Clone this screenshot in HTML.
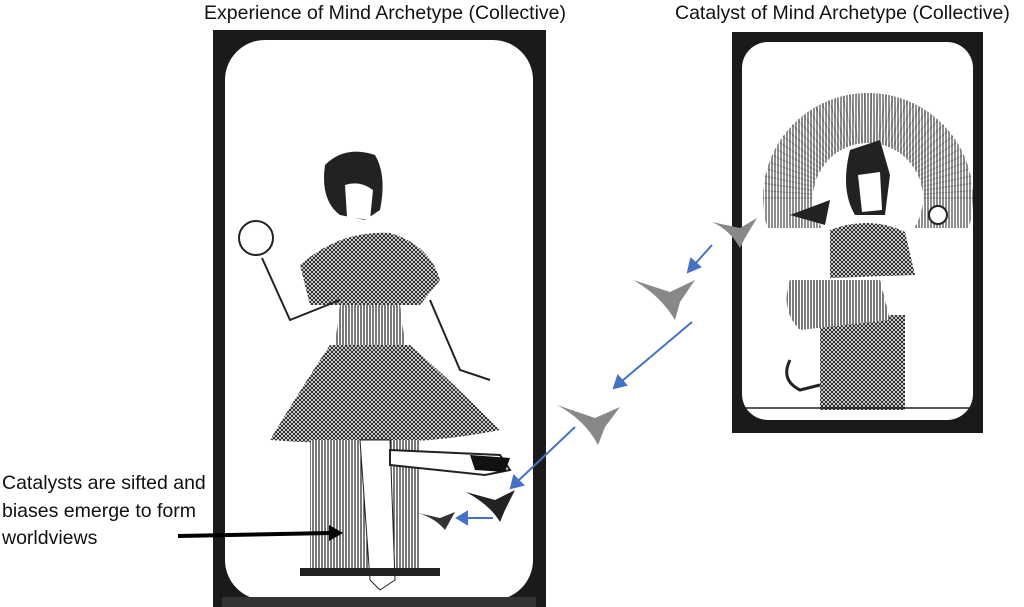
<!DOCTYPE html>
<html><head><meta charset="utf-8"><style>
body{margin:0;width:1024px;height:607px;background:#fff;overflow:hidden;position:relative;font-family:"Liberation Sans",sans-serif;}
.t{position:absolute;font-size:19.5px;color:#111;white-space:nowrap;}
</style></head><body>
<div class="t" style="left:204px;top:2px;">Experience of Mind Archetype (Collective)</div>
<div class="t" style="left:675px;top:2px;">Catalyst of Mind Archetype (Collective)</div>
<div class="t" style="left:2px;top:470px;line-height:27.5px;font-size:19.5px;">Catalysts are sifted and<br>biases emerge to form<br>worldviews</div>
<svg width="1024" height="607" style="position:absolute;left:0;top:0">
<defs>
<pattern id="h" width="4" height="4" patternUnits="userSpaceOnUse"><rect width="4" height="4" fill="#fff"/><path d="M0 0L4 4M4 0L0 4" stroke="#222" stroke-width="1"/></pattern>
<pattern id="v" width="3" height="3" patternUnits="userSpaceOnUse"><rect width="3" height="3" fill="#fff"/><path d="M1 0V3" stroke="#222" stroke-width="1.2"/></pattern>
</defs>
<!-- left card -->
<rect x="213" y="30" width="333" height="577" fill="#1a1a1a"/>
<rect x="225" y="40" width="308" height="560" rx="40" fill="#fff"/>
<rect x="222" y="597" width="314" height="10" fill="#333"/>
<!-- left figure -->
<path d="M325 165 Q345 145 375 155 Q387 175 380 210 L365 220 L340 215 Q320 200 325 165Z" fill="#222"/>
<path d="M345 185 Q360 180 373 190 L370 220 L347 217Z" fill="#fff"/>
<path d="M300 265 Q340 230 390 233 Q430 245 440 280 L420 305 L310 305Z" fill="url(#h)"/>
<path d="M340 305 L400 305 L405 345 L335 345Z" fill="url(#v)"/>
<path d="M330 345 L410 345 Q450 380 500 430 Q400 450 270 440 Q300 390 330 345Z" fill="url(#h)"/>
<rect x="310" y="440" width="110" height="130" fill="url(#v)"/>
<path d="M360 440 L390 440 L395 580 L380 590 L370 580Z" fill="#fff" stroke="#222"/>
<path d="M390 450 L500 455 L510 470 L485 475 L390 465Z" fill="#fff" stroke="#222" stroke-width="2"/>
<path d="M470 455 L510 458 L505 472 L475 470Z" fill="#111"/>
<rect x="300" y="568" width="140" height="8" fill="#222"/>
<circle cx="256" cy="238" r="17" fill="#fff" stroke="#222" stroke-width="2"/>
<path d="M262 258 L290 320 L340 300" fill="none" stroke="#222" stroke-width="2"/>
<path d="M430 300 L460 370 L490 380" fill="none" stroke="#222" stroke-width="2"/>
<path d="M466 492 L495 500 L515 490 L505 510 L500 522 Q490 505 466 492Z" fill="#222"/>
<path d="M418 513 L440 518 L455 512 L445 530 Q435 518 418 513Z" fill="#333"/>
<!-- right card -->
<rect x="732" y="32" width="251" height="401" fill="#1a1a1a"/>
<rect x="742" y="42" width="231" height="378" rx="26" fill="#fff"/>
<g stroke="#222" stroke-width="1.2"><path id="rays" d=""/></g>
<circle cx="868" cy="198" r="105" fill="url(#v)" opacity="0.85"/>
<rect x="755" y="228" width="215" height="100" fill="#fff"/>
<circle cx="868" cy="198" r="55" fill="#fff"/>
<path d="M850 150 L880 140 L890 175 L885 215 L855 215 Q840 190 850 150Z" fill="#222"/>
<path d="M858 175 L880 172 L882 210 L862 212Z" fill="#fff"/>
<path d="M830 230 Q870 215 905 232 L915 275 L830 278Z" fill="url(#h)"/>
<rect x="820" y="315" width="85" height="95" fill="url(#h)"/>
<path d="M790 280 L880 280 L890 320 L800 330 Q780 310 790 280Z" fill="url(#v)"/>
<path d="M790 360 Q780 380 800 390 L820 385" fill="none" stroke="#222" stroke-width="3"/>
<circle cx="938" cy="215" r="9" fill="#fff" stroke="#222" stroke-width="2"/>
<path d="M790 215 L830 200 L825 225Z" fill="#222"/>
<line x1="745" y1="408" x2="972" y2="408" stroke="#222" stroke-width="1.5"/>
<!-- gray birds -->
<path d="M712 222 L740 228 L757 218 L745 238 L740 248 Q730 230 712 222Z" fill="#888"/>
<path d="M633 280 L670 292 L695 280 L680 302 L675 320 Q660 295 633 280Z" fill="#888"/>
<path d="M557 405 L595 418 L620 407 L605 427 L598 445 Q585 420 557 405Z" fill="#888"/>
<!-- blue arrows -->
<g stroke="#4472c4" stroke-width="2" fill="#4472c4">
<line x1="712" y1="245" x2="695" y2="264"/><polygon points="688,272 691,259 700,267"/>
<line x1="692" y1="322" x2="622" y2="381"/><polygon points="614,388 618,376 626,385"/>
<line x1="575" y1="427" x2="518" y2="481"/><polygon points="511,488 514,476 523,485"/>
<line x1="493" y1="518" x2="466" y2="518"/><polygon points="457,518 467,512 467,524"/>
</g>
<!-- black arrow -->
<line x1="178" y1="536" x2="330" y2="533" stroke="#000" stroke-width="4"/>
<polygon points="343,533 329,525 329,541" fill="#000"/>
</svg>
<script>
var p="";for(var a=-180;a<=0;a+=4){var r=a*Math.PI/180;p+="M"+(868+55*Math.cos(r))+" "+(198+55*Math.sin(r))+"L"+(868+105*Math.cos(r))+" "+(198+105*Math.sin(r));}
document.getElementById("rays").setAttribute("d",p);
</script>
</body></html>
